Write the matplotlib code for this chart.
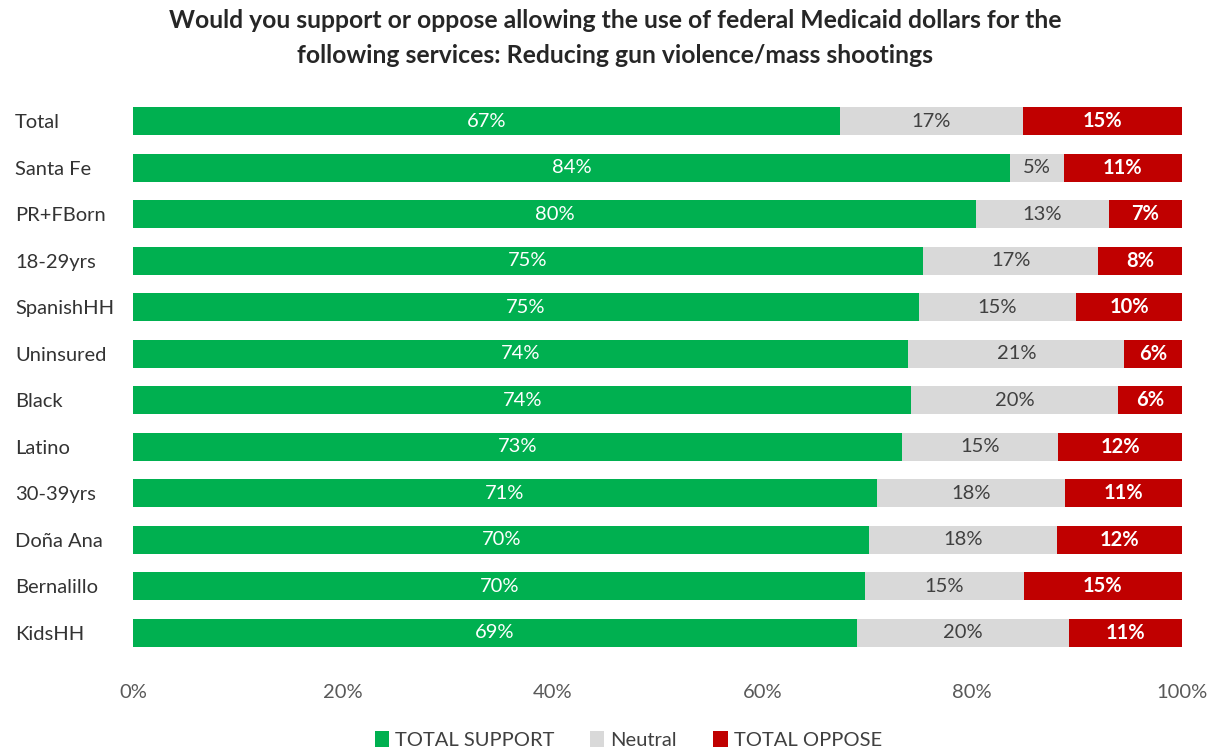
import matplotlib
matplotlib.use("Agg")
import matplotlib.pyplot as plt
import numpy as np

plt.rcParams['font.family'] = ['Lato', 'DejaVu Sans']

categories = ["Total", "Santa Fe", "PR+FBorn", "18-29yrs", "SpanishHH", "Uninsured",
              "Black", "Latino", "30-39yrs", "Doña Ana", "Bernalillo", "KidsHH"]
support = [67.4, 83.6, 80.4, 75.3, 74.9, 73.9, 74.2, 73.3, 70.9, 70.2, 69.8, 69.0]
neutral = [17.4, 5.1, 12.6, 16.7, 15.0, 20.6, 19.7, 14.9, 17.9, 17.9, 15.1, 20.2]
oppose = [15.2, 11.3, 7.0, 8.0, 10.1, 5.5, 6.1, 11.8, 11.2, 11.9, 15.1, 10.8]
series_names = ["TOTAL SUPPORT", "Neutral", "TOTAL OPPOSE"]
x_ticks = [0, 20, 40, 60, 80, 100]

colors = ["#00B050", "#D9D9D9", "#C00000"]
text_colors = ["white", "#404040", "white"]

fig = plt.figure(figsize=(12.15, 7.55), dpi=100)
ax = fig.add_axes([0.1095, 0.131, 0.8634, 0.739])

y = np.arange(len(categories))
left = np.zeros(len(categories))
for vals, name, col, tcol in zip([support, neutral, oppose], series_names, colors, text_colors):
    vals = np.array(vals)
    bars = ax.barh(y, vals, left=left, height=0.6, color=col, label=name)
    for b, v in zip(bars, vals):
        ax.text(b.get_x() + b.get_width() / 2, b.get_y() + b.get_height() / 2,
                f"{v:.0f}%", ha="center", va="center", color=tcol, fontsize=14.5,
                fontweight="bold" if col == "#C00000" else "normal")
    left += vals

ax.set_xlim(0, 100)
ax.set_ylim(len(categories) - 0.5, -0.5)
ax.set_yticks(y)
ax.set_yticklabels(categories, fontsize=14.5, color="#333333", ha="left")
ax.tick_params(axis="y", length=0, pad=85)
ax.set_xticks(x_ticks)
ax.set_xticklabels([f"{t}%" for t in x_ticks], fontsize=14.5, color="#595959")
ax.tick_params(axis="x", length=0, pad=20)
for s in ax.spines.values():
    s.set_visible(False)

fig.suptitle("Would you support or oppose allowing the use of federal Medicaid dollars for the\n"
             "following services: Reducing gun violence/mass shootings",
             x=0.506, y=0.988, fontsize=17.8, fontweight="bold", color="#262626", linespacing=1.62)

fig.legend(loc="center", bbox_to_anchor=(0.517, 0.02), ncol=3, frameon=False,
           fontsize=14.5, handlelength=0.7, handleheight=0.9, handletextpad=0.3,
           columnspacing=1.8, labelcolor="#404040")

fig.savefig("out.png", dpi=100, facecolor="white")
